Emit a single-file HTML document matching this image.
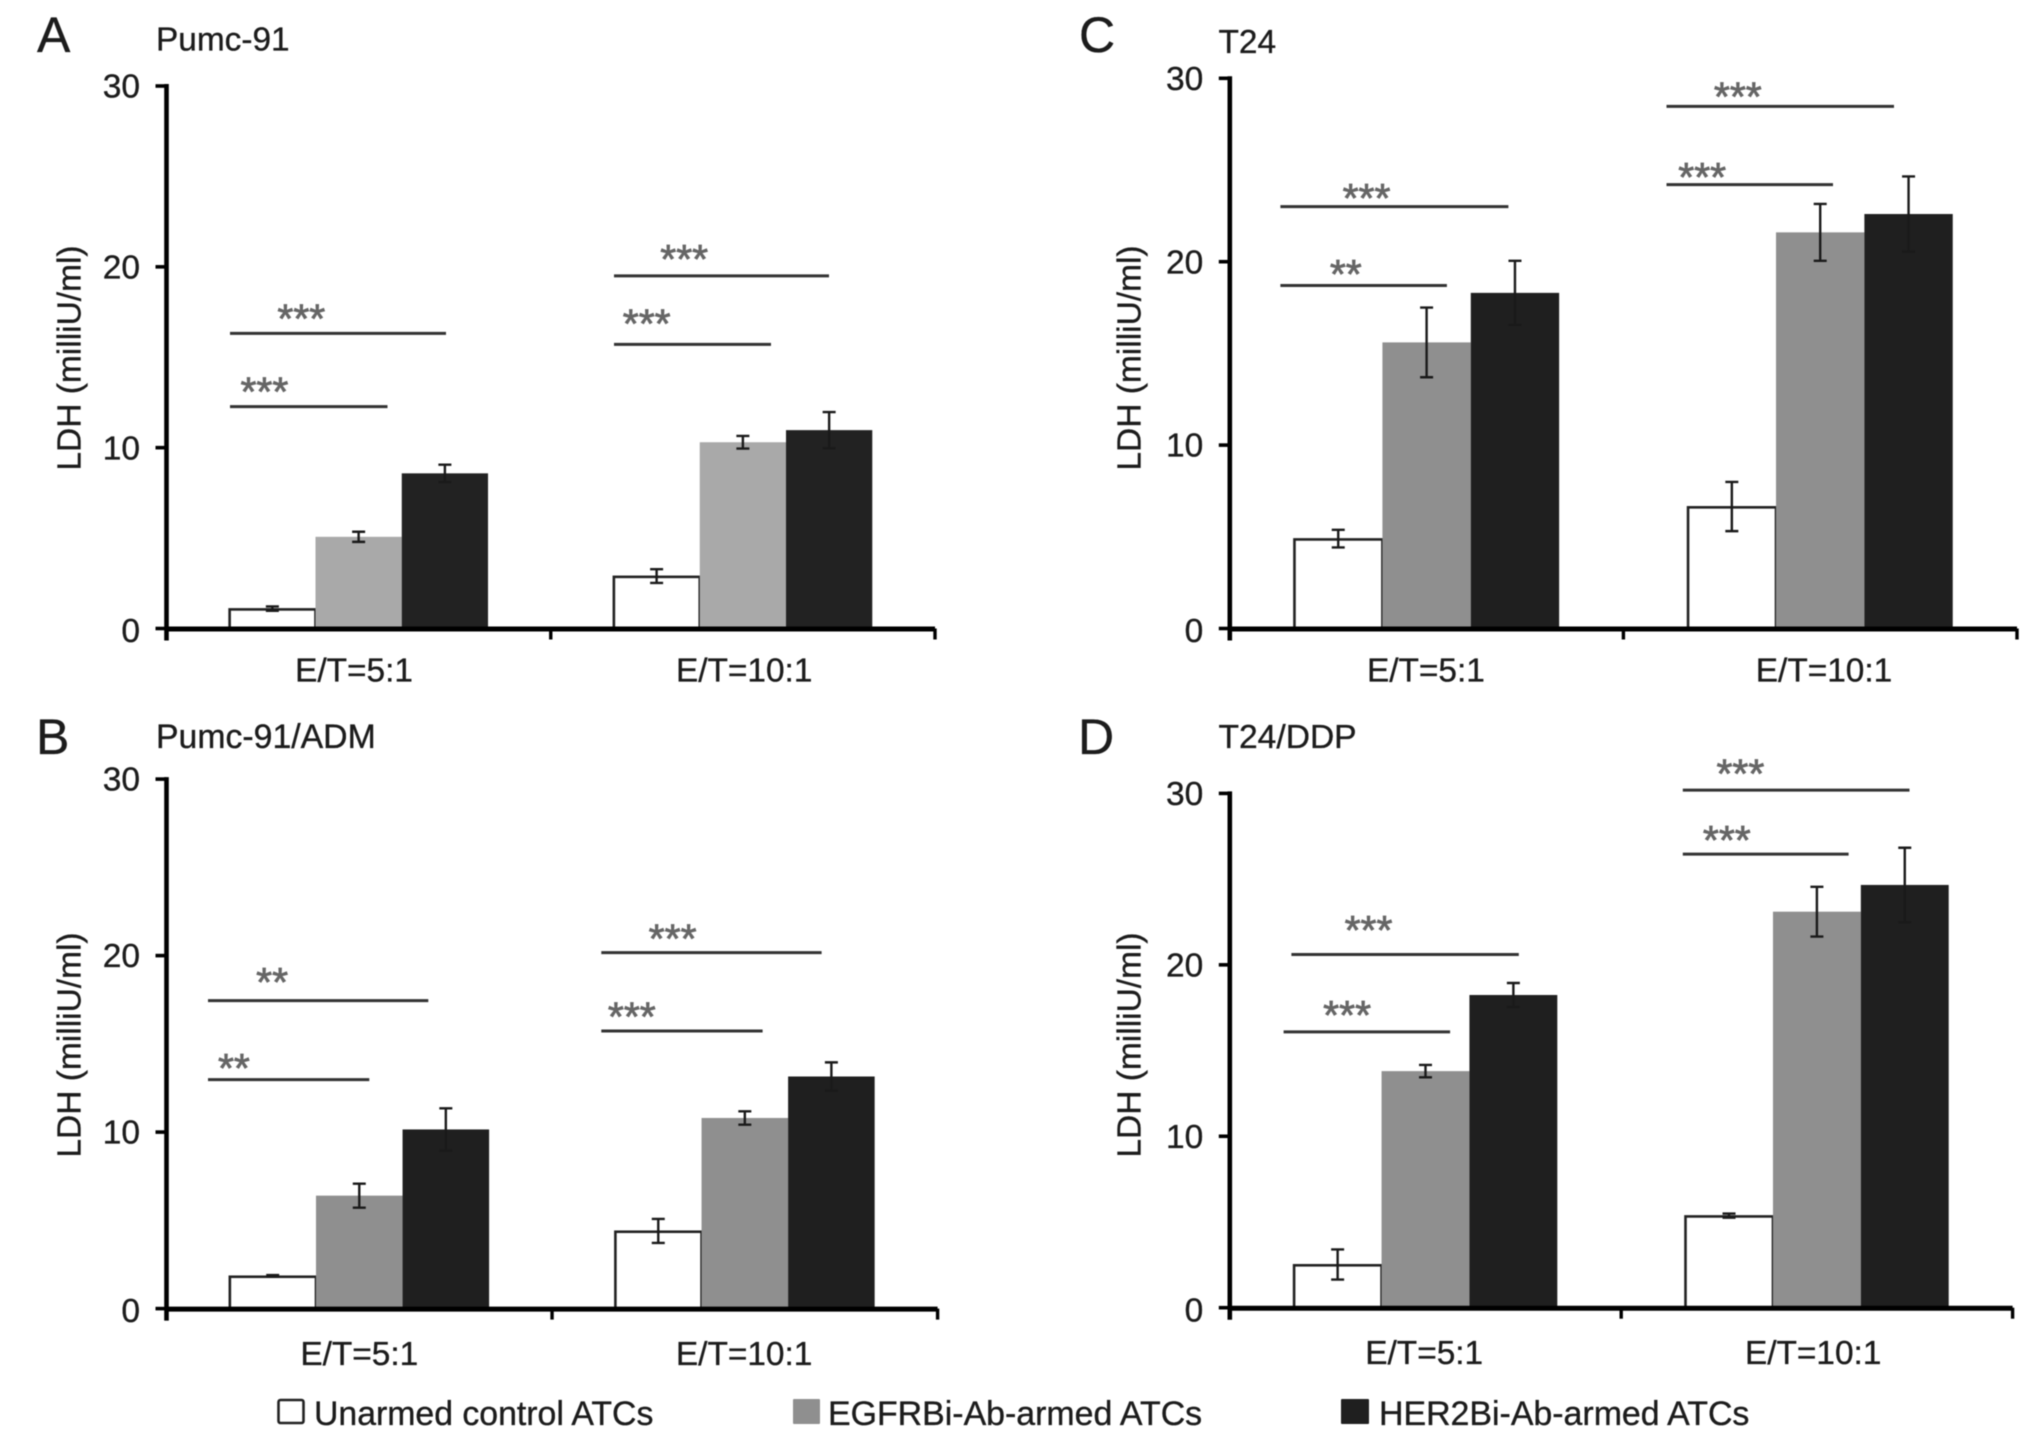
<!DOCTYPE html>
<html lang="en">
<head>
<meta charset="utf-8">
<title>LDH release by armed ATCs</title>
<style>
html,body{margin:0;padding:0;background:#fff;}
svg{display:block;filter:blur(0.65px);}
text{font-family:"Liberation Sans",sans-serif;fill:#1c1c1c;stroke:#1c1c1c;stroke-width:0.35px;}
</style>
</head>
<body>
<svg id="figure" xmlns="http://www.w3.org/2000/svg" width="2032" height="1444" viewBox="0 0 2032 1444">
  <rect x="0" y="0" width="2032" height="1444" fill="#fff"/>

  <g id="panel-a">
    <text x="37" y="52" font-size="50">A</text>
    <text x="156" y="50.5" font-size="33.4">Pumc-91</text>
    <text transform="translate(80.5,358) rotate(-90)" text-anchor="middle" font-size="33.5">LDH (milliU/ml)</text>
  </g>
  <g id="panel-b">
    <text x="36" y="754" font-size="50">B</text>
    <text x="156" y="748" font-size="33.8">Pumc-91/ADM</text>
    <text transform="translate(80.5,1045) rotate(-90)" text-anchor="middle" font-size="33.5">LDH (milliU/ml)</text>
  </g>
  <g id="panel-c">
    <text x="1079" y="52" font-size="50">C</text>
    <text x="1218.5" y="53" font-size="33.4">T24</text>
    <text transform="translate(1140.5,358) rotate(-90)" text-anchor="middle" font-size="33.5">LDH (milliU/ml)</text>
  </g>
  <g id="panel-d">
    <text x="1078" y="754" font-size="50">D</text>
    <text x="1218.5" y="748" font-size="33.6">T24/DDP</text>
    <text transform="translate(1140.5,1045) rotate(-90)" text-anchor="middle" font-size="33.5">LDH (milliU/ml)</text>
  </g>

  <g>
    <g>
      <rect x="278.5" y="1400" width="25" height="23" rx="2" fill="#fff" stroke="#222" stroke-width="2.6"/>
      <text x="314" y="1425" font-size="33.8">Unarmed control ATCs</text>
    </g>
    <g>
      <rect x="793" y="1399" width="27" height="25" rx="1" fill="#8f8f8f"/>
      <text x="828" y="1425" font-size="33.9">EGFRBi-Ab-armed ATCs</text>
    </g>
    <g>
      <rect x="1341" y="1399" width="28" height="25" rx="1" fill="#1f1f1f"/>
      <text x="1379" y="1425" font-size="33.9">HER2Bi-Ab-armed ATCs</text>
    </g>
  </g>
</svg>

<script>
// Shared axis data
const categories = ['E/T=5:1', 'E/T=10:1'];
const tickLabels = [0, 10, 20, 30];

// Panel A (Pumc-91)
const panelAUnarmed = [1.1, 2.9];
const panelAEgfr = [5.07, 10.3];
const panelAHer2 = [8.58, 10.97];
const panelAUnarmedErr = [0.12, 0.38];
const panelAEgfrErr = [0.28, 0.35];
const panelAHer2Err = [0.48, 1.0];
const panelASigLevels = [12.27, 16.32, 15.71, 19.5];
const panelASigLabels = ['***', '***', '***', '***'];

// Panel B (Pumc-91/ADM)
const panelBUnarmed = [1.85, 4.4];
const panelBEgfr = [6.4, 10.8];
const panelBHer2 = [10.15, 13.15];
const panelBUnarmedErr = [0.05, 0.68];
const panelBEgfrErr = [0.68, 0.38];
const panelBHer2Err = [1.2, 0.8];
const panelBSigLevels = [12.97, 17.45, 15.73, 20.17];
const panelBSigLabels = ['**', '**', '***', '***'];

// Panel C (T24)
const panelCUnarmed = [4.9, 6.65];
const panelCEgfr = [15.6, 21.6];
const panelCHer2 = [18.3, 22.6];
const panelCUnarmedErr = [0.48, 1.34];
const panelCEgfrErr = [1.9, 1.55];
const panelCHer2Err = [1.75, 2.05];
const panelCSigLevels = [18.7, 23.0, 24.2, 28.47];
const panelCSigLabels = ['**', '***', '***', '***'];

// Panel D (T24/DDP)
const panelDUnarmed = [2.52, 5.37];
const panelDEgfr = [13.8, 23.1];
const panelDHer2 = [18.24, 24.66];
const panelDUnarmedErr = [0.88, 0.12];
const panelDEgfrErr = [0.36, 1.45];
const panelDHer2Err = [0.7, 2.17];
const panelDSigLevels = [16.09, 20.6, 26.46, 30.19];
const panelDSigLabels = ['***', '***', '***', '***'];

const SVG_NS = 'http://www.w3.org/2000/svg';
const AXIS_MAX = 30;
const BAR_FRACTION = 0.2245;

function make(parent, tag, attrs) {
  const el = document.createElementNS(SVG_NS, tag);
  Object.keys(attrs).forEach(function (k) { el.setAttribute(k, attrs[k]); });
  parent.appendChild(el);
  return el;
}

function makeAxes(panel) {
  const g = document.getElementById(panel.id);
  panel.g = g;
  panel.y = function (v) { return panel.y0 - (v / AXIS_MAX) * (panel.y0 - panel.yTop); };
  const band = (panel.xEnd - panel.xStart) / categories.length;
  panel.band = band;
  panel.x = function (i) { return panel.xStart + band * (i + 0.5); };
  return g;
}

function drawBars(panel, seriesValues, seriesErrors, fills) {
  const barW = panel.band * BAR_FRACTION;
  categories.forEach(function (cat, i) {
    seriesValues.forEach(function (vals, s) {
      const left = panel.x(i) + (s - 1.5) * barW;
      const top = panel.y(vals[i]);
      const outlined = s === 0;
      const bar = make(panel.g, 'rect', {
        x: outlined ? left + 0.4 : left,
        y: outlined ? top + 0.8 : top,
        width: outlined ? barW - 0.4 : barW,
        height: panel.y0 - top - (outlined ? 0.8 : 0),
        fill: fills[s],
        stroke: outlined ? '#222' : 'none',
        'stroke-width': outlined ? 2.6 : 0
      });
      
      
    });
  });
  categories.forEach(function (cat, i) {
    seriesValues.forEach(function (vals, s) {
      const cx = panel.x(i) + (s - 1) * barW;
      const hi = panel.y(vals[i] + seriesErrors[s][i]);
      const lo = panel.y(vals[i] - seriesErrors[s][i]);
      const d = 'M' + cx + ' ' + hi + 'V' + lo +
        'M' + (cx - 6.5) + ' ' + hi + 'H' + (cx + 6.5) +
        'M' + (cx - 6.5) + ' ' + lo + 'H' + (cx + 6.5);
      const err = make(panel.g, 'path', { d: d, fill: 'none', stroke: '#1a1a1a', 'stroke-width': 2.4 });
      
      
    });
  });
}

function drawAxisLines(panel) {
  const yAxis = make(panel.g, 'line', { x1: panel.xStart, x2: panel.xStart, y1: panel.yTop - 2, y2: panel.y0 + 12, stroke: '#000', 'stroke-width': 4.6 });
  
  
  const xAxis = make(panel.g, 'line', { x1: panel.xStart, x2: panel.xEnd, y1: panel.y0 + 0.5, y2: panel.y0 + 0.5, stroke: '#000', 'stroke-width': 5 });
  
  

  tickLabels.forEach(function (t) {
    const tick = make(panel.g, 'line', { x1: panel.xStart - 11, x2: panel.xStart, y1: panel.y(t), y2: panel.y(t), stroke: '#000', 'stroke-width': 3.6 });
    
    
    const label = make(panel.g, 'text', { x: panel.xStart - 26.5, y: panel.y(t) + 11.6 + (t === 0 ? 2 : 0), 'text-anchor': 'end', 'font-size': 33.5 });
    label.textContent = String(t);
    
    
  });

  categories.forEach(function (cat, i) {
    const right = panel.xStart + panel.band * (i + 1);
    const tick = make(panel.g, 'line', { x1: right, x2: right, y1: panel.y0, y2: panel.y0 + 11, stroke: '#000', 'stroke-width': 3.4 });
    
    
    const label = make(panel.g, 'text', { x: panel.x(i) + panel.labelShift[i], y: panel.y0 + panel.labelDrop, 'text-anchor': 'middle', 'font-size': 33.4 });
    label.textContent = cat;
    
    
  });
}

function drawSig(panel, levels, labels, index, x1, x2, starX, gap) {
  const ly = panel.y(levels[index]);
  const line = make(panel.g, 'line', { x1: x1, x2: x2, y1: ly, y2: ly, stroke: '#333', 'stroke-width': 3 });
  
  
  const stars = make(panel.g, 'text', { x: starX, y: ly - gap + 19.5, 'text-anchor': 'middle', 'font-size': 41 });
  stars.textContent = labels[index];
  stars.style.fill = '#666';
  stars.style.stroke = '#666';
  stars.style.strokeWidth = '0.8px';
  
  
}

const GRAY_LIGHT = '#a9a9a9';
const GRAY = '#8f8f8f';

// Panel A
const panelA = { id: 'panel-a', xStart: 166.5, xEnd: 935, y0: 628.5, yTop: 86, labelShift: [-4.6, 1.3], labelDrop: 53 };
makeAxes(panelA);
drawBars(panelA, [panelAUnarmed, panelAEgfr, panelAHer2], [panelAUnarmedErr, panelAEgfrErr, panelAHer2Err], ['#fff', GRAY_LIGHT, '#222']);
drawAxisLines(panelA);
drawSig(panelA, panelASigLevels, panelASigLabels, 0, 230, 387.5, 264.4, 20.7);
drawSig(panelA, panelASigLevels, panelASigLabels, 1, 230, 446, 301.3, 20.3);
drawSig(panelA, panelASigLevels, panelASigLabels, 2, 614, 771, 646.7, 26.2);
drawSig(panelA, panelASigLevels, panelASigLabels, 3, 614, 829, 684.2, 22.6);

// Panel B
const panelB = { id: 'panel-b', xStart: 166.5, xEnd: 937.6, y0: 1308.6, yTop: 779.1, labelShift: [0, -0.7], labelDrop: 56.5 };
makeAxes(panelB);
drawBars(panelB, [panelBUnarmed, panelBEgfr, panelBHer2], [panelBUnarmedErr, panelBEgfrErr, panelBHer2Err], ['#fff', GRAY, '#1f1f1f']);
drawAxisLines(panelB);
drawSig(panelB, panelBSigLevels, panelBSigLabels, 0, 208, 369.3, 233.9, 17);
drawSig(panelB, panelBSigLevels, panelBSigLabels, 1, 208, 428.3, 272.1, 24);
drawSig(panelB, panelBSigLevels, panelBSigLabels, 2, 601.3, 762.6, 631.8, 19.8);
drawSig(panelB, panelBSigLevels, panelBSigLabels, 3, 601.3, 821.6, 672.6, 19.8);

// Panel C
const panelC = { id: 'panel-c', xStart: 1229.8, xEnd: 2017, y0: 628.5, yTop: 78.3, labelShift: [-0.7, 3.8], labelDrop: 53 };
makeAxes(panelC);
drawBars(panelC, [panelCUnarmed, panelCEgfr, panelCHer2], [panelCUnarmedErr, panelCEgfrErr, panelCHer2Err], ['#fff', GRAY, '#1f1f1f']);
drawAxisLines(panelC);
drawSig(panelC, panelCSigLevels, panelCSigLabels, 0, 1280.4, 1446.9, 1345.8, 17);
drawSig(panelC, panelCSigLevels, panelCSigLabels, 1, 1280.4, 1508.4, 1366.5, 14.3);
drawSig(panelC, panelCSigLevels, panelCSigLabels, 2, 1666.5, 1833, 1702.2, 13.4);
drawSig(panelC, panelCSigLevels, panelCSigLabels, 3, 1666.5, 1894, 1737.8, 15.2);

// Panel D
const panelD = { id: 'panel-d', xStart: 1229.8, xEnd: 2012.6, y0: 1307.7, yTop: 793.4, labelShift: [-1.3, -3.7], labelDrop: 56.5 };
makeAxes(panelD);
drawBars(panelD, [panelDUnarmed, panelDEgfr, panelDHer2], [panelDUnarmedErr, panelDEgfrErr, panelDHer2Err], ['#fff', GRAY, '#1f1f1f']);
drawAxisLines(panelD);
drawSig(panelD, panelDSigLevels, panelDSigLabels, 0, 1283.6, 1450.1, 1347.1, 22.6);
drawSig(panelD, panelDSigLevels, panelDSigLabels, 1, 1291.4, 1518.8, 1368.5, 30);
drawSig(panelD, panelDSigLevels, panelDSigLabels, 2, 1682.8, 1848.6, 1726.8, 19.8);
drawSig(panelD, panelDSigLevels, panelDSigLabels, 3, 1682.8, 1909.5, 1740.4, 22.1);
</script>
</body>
</html>
